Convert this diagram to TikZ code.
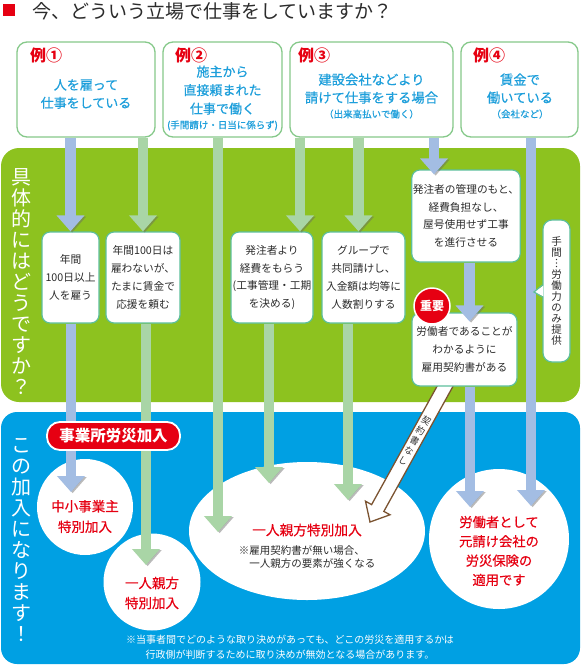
\documentclass[tikz,border=0pt]{standalone}
\usepackage{fontspec}
\setmainfont{Noto Sans CJK JP}
\newfontfamily\midfont{Noto Sans CJK JP}[FakeBold=0.5]
\usepackage{xcolor}
\usetikzlibrary{arrows.meta,positioning,calc,shapes.geometric}
\definecolor{brandred}{HTML}{E60012}
\definecolor{ink}{HTML}{2B2B2B}
\definecolor{skytext}{HTML}{1E9FDB}
\definecolor{boxbd}{HTML}{86C98A}
\definecolor{sbbd}{HTML}{5DBF9C}
\definecolor{leafbg}{HTML}{8DC21F}
\definecolor{seabg}{HTML}{00A0E3}
\definecolor{barblue}{HTML}{A3BDE3}
\definecolor{bargreen}{HTML}{A9D5A6}
\definecolor{rope}{HTML}{7B5331}
\tikzset{
  topbox/.style={draw=boxbd,fill=white,rounded corners=10pt,line width=1.3pt,
                 minimum height=95pt},
  tag/.style={font=\fontsize{16}{18}\selectfont\bfseries,text=brandred,
              anchor=west,inner sep=0pt},
  toptext/.style={text=skytext,align=center,inner sep=0pt},
  stepbox/.style={draw=sbbd,fill=white,rounded corners=8pt,line width=1.2pt,
                  align=center,inner sep=1pt,text=ink,
                  font=\fontsize{10.7}{17.8}\selectfont},
  goal/.style={circle,fill=white,inner sep=0pt},
  goaltext/.style={align=center,text=brandred,inner sep=0pt,
                   font=\midfont\fontsize{13.5}{20.5}\selectfont},
  bigv/.style={text=white,align=center,font=\fontsize{20}{21}\selectfont,
               inner sep=0pt},
  barshadow/.style={preaction={draw=black!60,opacity=.45,
                    transform canvas={shift={(1.6pt,-1.2pt)}}}},
  barb/.style={barshadow,draw=barblue,line width=10.5pt,
               -{Triangle[width=27pt,length=16pt]}},
  barg/.style={barshadow,draw=bargreen,line width=10.5pt,
               -{Triangle[width=27pt,length=16pt]}},
}
\begin{document}
\begin{tikzpicture}[x=1pt,y=-1pt]
  \useasboundingbox[fill=white](0,0)rectangle(581,667);
  % Title
  \fill[brandred](3,4)rectangle(15,16);
  \node[font=\fontsize{19}{22}\selectfont,text=ink,anchor=west,inner sep=0pt]
    (title)at(32,11){今、どういう立場で仕事をしていますか？};
  % Bands
  \fill[leafbg,rounded corners=18pt](1,148)rectangle(580,402);
  \fill[seabg,rounded corners=16pt](1,412)rectangle(580,664);
  \node[bigv](how)at(22,282){具\\体\\的\\に\\は\\ど\\う\\で\\す\\か\\？};
  \node[bigv](join)at(21,540){こ\\の\\加\\入\\に\\な\\り\\ま\\す\\！};
  % Examples
  \node[topbox,minimum width=138pt](tb1)at(86,89.5){};
  \node[topbox,minimum width=119pt](tb2)at(222.5,89.5){};
  \node[topbox,minimum width=163pt](tb3)at(371.5,89.5){};
  \node[topbox,minimum width=117pt](tb4)at(519.5,89.5){};
  \node[tag](tag1)at(30,55){例①};
  \node[tag](tag2)at(175,55){例②};
  \node[tag](tag3)at(298,55){例③};
  \node[tag](tag4)at(473,55){例④};
  \node[toptext,font=\midfont\fontsize{13}{18}\selectfont](tx1)at(86,94)
    {人を雇って\\仕事をしている};
  \node[toptext,font=\midfont\fontsize{13}{18.5}\selectfont](tx2)at(222.5,98)
    {施主から\\直接頼まれた\\仕事で働く\\[-3.5pt]
     {\fontsize{9.5}{11}\selectfont(手間請け・日当に係らず)}};
  \node[toptext,font=\midfont\fontsize{13.3}{18}\selectfont](tx3)at(371.5,96)
    {建設会社などより\\請けて仕事をする場合\\[-3pt]
     {\fontsize{9.5}{11}\selectfont（出来高払いで働く）}};
  \node[toptext,font=\midfont\fontsize{13.3}{18}\selectfont](tx4)at(520,96)
    {賃金で\\働いている\\[-3pt]{\fontsize{9.5}{11}\selectfont（会社など）}};
  % Outcomes
  \node[goal,minimum size=96pt](c1)at(85,507){};
  \node[goal,minimum size=97pt](c2)at(152,582){};
  \node[ellipse,fill=white,minimum width=236pt,minimum height=138pt](e1)
    at(307,531){};
  \node[goal,minimum size=140pt](c3)at(499,539){};
  \node[goaltext](g1)at(85,516.5){中小事業主\\特別加入};
  \node[goaltext,font=\midfont\fontsize{13.5}{20}\selectfont](g2)at(152,593)
    {一人親方\\特別加入};
  \node[goaltext,font=\midfont\fontsize{13.7}{16}\selectfont](g3)at(307,530)
    {一人親方特別加入};
  \node[text=ink,align=left,font=\fontsize{10.5}{13.5}\selectfont,inner sep=0pt]
    (g3n)at(307,557){※雇用契約書が無い場合、\\\hspace*{1em}一人親方の要素が強くなる};
  \node[goaltext,font=\midfont\fontsize{13.3}{19.3}\selectfont](g4)at(499,551)
    {労働者として\\元請け会社の\\労災保険の\\適用です};
  % No contract
  \coordinate(ks)at(448.5,380);
  \coordinate(kt)at(370,522);
  \coordinate(kb)at($(kt)!16pt!(ks)$);
  \draw[rope,fill=white,line width=1.3pt]
    ($(ks)!7pt!90:(kt)$)--($(kb)!7pt!90:(kt)$)--($(kb)!14pt!90:(kt)$)--(kt)
    --($(kb)!14pt!-90:(kt)$)--($(kb)!7pt!-90:(kt)$)--($(ks)!7pt!-90:(kt)$)--cycle;
  \node[rotate=-30,align=center,font=\fontsize{9}{11.5}\selectfont,text=ink,
        inner sep=0pt](nok)at($(ks)!0.43!(kt)$){契\\約\\書\\な\\し};
  % Cases
  \node[stepbox,minimum width=57pt,minimum height=91pt](sb1)at(70.5,277.5)
    {年間\\100日以上\\人を雇う};
  \node[stepbox,minimum width=74pt,minimum height=91pt](sb2)at(143,277.5)
    {年間100日は\\雇わないが、\\たまに賃金で\\応援を頼む};
  \node[stepbox,minimum width=82pt,minimum height=91pt](sb3)at(272,277.5)
    {発注者より\\経費をもらう\\(工事管理・工期\\を決める)};
  \node[stepbox,minimum width=83pt,minimum height=91pt](sb4)at(363.5,277.5)
    {グループで\\共同請けし、\\入金額は均等に\\人数割りする};
  \node[stepbox,minimum width=108pt,minimum height=92pt](sb5)at(466,216)
    {発注者の管理のもと、\\経費負担なし、\\屋号使用せず工事\\を進行させる};
  \node[stepbox,minimum width=105pt,minimum height=73pt](sb6)at(464.5,349.5)
    {労働者であることが\\わかるように\\雇用契約書がある};
  % Bars
  \coordinate(t3)at(218,532);
  \coordinate(t4)at([xshift=28pt]sb3.north);
  \coordinate(t5)at([xshift=-5pt]sb4.north);
  \coordinate(t6)at([xshift=-32pt,yshift=-5pt]sb5.north);
  \coordinate(t7)at(531,506);
  \coordinate(t8)at([xshift=5pt,yshift=-9pt]sb6.north);
  \coordinate(t9)at(470,507);
  \coordinate(t10)at(71,492);
  \coordinate(t11)at(146,565);
  \coordinate(t12)at(269,483);
  \coordinate(t13)at(348,500);
  \draw[barb](tb1.south-|sb1.north)--(sb1.north);
  \draw[barg](tb1.south-|sb2.north)--(sb2.north);
  \draw[barg](tb2.south-|t3)--(t3);
  \draw[barg](tb3.south-|t4)--(t4);
  \draw[barg](tb3.south-|t5)--(t5);
  \draw[barb](tb3.south-|t6)--(t6);
  \draw[barb](tb4.south-|t7)--(t7);
  \draw[barb](sb5.south-|t8)--(t8);
  \draw[barb](sb6.south-|t9)--(t9);
  \draw[barb](sb1.south-|t10)--(t10);
  \draw[barg](sb2.south-|t11)--(t11);
  \draw[barg](sb3.south-|t12)--(t12);
  \draw[barg](sb4.south-|t13)--(t13);
  % Labels on top
  \node[fill=brandred,draw=white,line width=1.8pt,rounded corners=13pt,
        minimum width=133pt,minimum height=28pt,text=white,
        font=\fontsize{15.5}{18}\selectfont\bfseries](pill)at(113.5,436){事業所労災加入};
  \node[circle,fill=brandred,draw=white,line width=1.5pt,minimum size=36pt,
        inner sep=0pt,text=white,font=\fontsize{12}{14}\selectfont\bfseries]
    (key)at(432,306){重要};
  \node[draw=sbbd,fill=white,rounded corners=9pt,line width=1.2pt,
        minimum width=27pt,minimum height=142pt,inner sep=0pt,align=center,
        text=ink,font=\fontsize{10.5}{10.9}\selectfont]
    (bub)at(556.5,291){手\\間\\︙\\労\\働\\力\\の\\み\\提\\供};
  \coordinate(bubtip)at(534,292);
  \fill[white]([xshift=1pt,yshift=5.4pt]bub.west)--(bubtip)
    --([xshift=1pt,yshift=-5.4pt]bub.west)--cycle;
  \draw[sbbd,line width=1.2pt]([yshift=6pt]bub.west)--(bubtip)--([yshift=-6pt]bub.west);
  % Footnote
  \node[text=white,align=center,font=\fontsize{10}{15}\selectfont,inner sep=0pt]
    (note)at(290,647.5){※当事者間でどのような取り決めがあっても、どこの労災を適用するかは\\
    行政側が判断するために取り決めが無効となる場合があります。};
\end{tikzpicture}
\end{document}
